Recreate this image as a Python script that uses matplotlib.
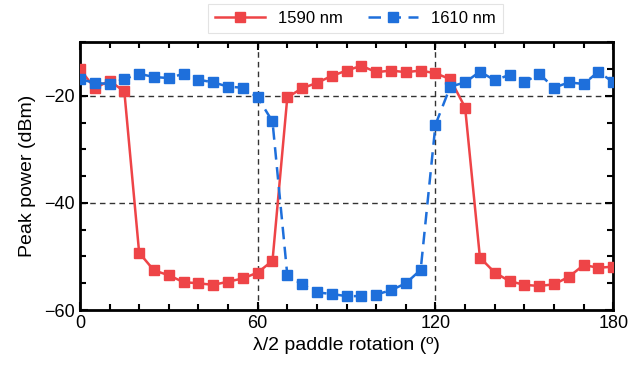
import numpy as np
import matplotlib.pyplot as plt
from matplotlib.ticker import MultipleLocator

plt.rcParams['font.family'] = ['Liberation Sans', 'DejaVu Sans']

angle = np.arange(0, 181, 5)

p1590 = [-15.0, -18.6, -17.2, -19.2, -49.3, -52.6, -53.5, -54.8, -55.0, -55.3,
         -54.7, -54.1, -53.0, -50.8, -20.3, -18.6, -17.6, -16.3, -15.3, -14.4,
         -15.6, -15.3, -15.6, -15.3, -15.8, -16.9, -22.2, -50.2, -53.0, -54.6,
         -55.3, -55.5, -55.2, -53.8, -51.6, -52.1, -51.9]

p1610 = [-16.9, -17.6, -17.8, -16.9, -15.9, -16.5, -16.7, -15.9, -17.0, -17.5,
         -18.3, -18.5, -20.3, -24.8, -53.5, -55.2, -56.7, -57.0, -57.4, -57.4,
         -57.1, -56.3, -55.0, -52.5, -25.4, -18.3, -17.5, -15.5, -17.1, -16.1,
         -17.5, -15.9, -18.5, -17.5, -17.8, -15.5, -17.5]

red = '#EE4447'
blue = '#1E6FDB'

fig = plt.figure(figsize=(6.29, 3.70), dpi=100)
ax = fig.add_axes([0.127, 0.162, 0.848, 0.724])

for v in [60, 120]:
    ax.axvline(v, color='#333333', ls=(0, (4, 3)), lw=1, zorder=1)
for v in [-20, -40]:
    ax.axhline(v, color='#333333', ls=(0, (4, 3)), lw=1, zorder=1)

ax.plot(angle, p1590, '-s', color=red, lw=1.8, ms=7, label='1590 nm', zorder=3)
ax.plot(angle, p1610, 's', ls=(0, (5, 3)), color=blue, lw=1.8, ms=7,
        label='1610 nm', zorder=3)

ax.set_xlim(0, 180)
ax.set_ylim(-60, -10)
ax.xaxis.set_major_locator(MultipleLocator(60))
ax.xaxis.set_minor_locator(MultipleLocator(10))
ax.yaxis.set_major_locator(MultipleLocator(20))
ax.yaxis.set_minor_locator(MultipleLocator(5))
ax.tick_params(which='both', direction='in', top=True, right=True, width=1.5)
ax.tick_params(which='major', length=6, labelsize=13)
ax.tick_params(which='minor', length=4)
for s in ax.spines.values():
    s.set_linewidth(2)

ax.set_xlabel('λ/2 paddle rotation (º)', fontsize=14)
ax.set_ylabel('Peak power (dBm)', fontsize=14, labelpad=6)

leg = fig.legend(loc='center', bbox_to_anchor=(0.565, 0.95), ncol=2,
                 fontsize=12, frameon=True, fancybox=False, edgecolor='#dddddd',
                 handlelength=3, columnspacing=1.5)
leg.get_frame().set_linewidth(0.8)

fig.savefig('out.png', dpi=100)
